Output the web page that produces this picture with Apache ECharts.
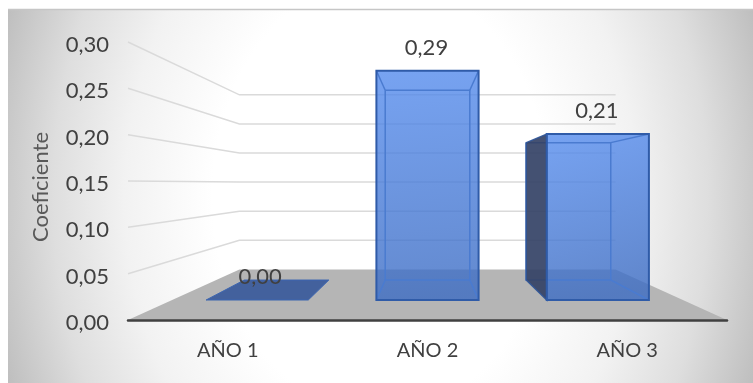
<!DOCTYPE html>
<html>
<head>
<meta charset="utf-8">
<style>html,body{margin:0;padding:0;background:#fff}#chart{width:753px;height:383px}</style>
<script src="https://cdn.jsdelivr.net/npm/echarts@6/dist/echarts.min.js"></script>
</head>
<body>
<div id="chart"></div>
<script>
const categories = ['AÑO 1', 'AÑO 2', 'AÑO 3'];
const coefficients = [0.00, 0.29, 0.21];
const axisTicks = [0, 0.05, 0.10, 0.15, 0.20, 0.25, 0.30];
const axisName = 'Coeficiente';

// Depth ratios of the 3D box: 1 is the front plane the axes live on.
const DEPTH_BACK = 0.628, DEPTH_BAR_FRONT = 0.853, DEPTH_BAR_BACK = 0.706;
const VANISH_Y = 184;
const BAR_HALF = 0.3;
const FONT = 'Lato, sans-serif';

const W = 753, H = 383;
const GRID = { left: 128, right: 26, top: 42, bottom: 63 };
const vanishX = GRID.left + (W - GRID.left - GRID.right) / 2;

const comma = v => v.toFixed(2).replace('.', ',');
const project = (p, s) => [vanishX + (p[0] - vanishX) * s, VANISH_Y + (p[1] - VANISH_Y) * s];
const poly = (points, style) => ({ type: 'polygon', shape: { points }, style });
const line = (points, stroke, lineWidth) => ({
  type: 'polyline', shape: { points }, style: { stroke, lineWidth, fill: 'none' }
});

// Gridlines: run back along the left wall, then across the rear wall.
function renderGridline(params, api) {
  const v = api.value(1);
  const left = api.coord([0, v]);
  left[0] = GRID.left;
  const right = [W - GRID.right, left[1]];
  return line([left, project(left, DEPTH_BACK), project(right, DEPTH_BACK)], '#dadada', 1.5);
}

function renderFloor(params, api) {
  const o = api.coord([0, 0]);
  const a = [GRID.left, o[1]], b = [W - GRID.right, o[1]];
  return poly([a, b, project(b, DEPTH_BACK), project(a, DEPTH_BACK)], { fill: '#b5b5b5' });
}

function renderBar(params, api) {
  const value = api.value(1);
  const base = api.coord([api.value(0), 0]);
  const top = api.coord([api.value(0), value]);
  const half = api.size([1, 0])[0] * BAR_HALF;
  const corner = (side, p, s) => project([p[0] + side * half, p[1]], s);

  const fbl = corner(-1, base, DEPTH_BAR_FRONT), fbr = corner(1, base, DEPTH_BAR_FRONT);
  const ftl = corner(-1, top, DEPTH_BAR_FRONT), ftr = corner(1, top, DEPTH_BAR_FRONT);
  const bbl = corner(-1, base, DEPTH_BAR_BACK), bbr = corner(1, base, DEPTH_BAR_BACK);
  const btl = corner(-1, top, DEPTH_BAR_BACK), btr = corner(1, top, DEPTH_BAR_BACK);

  const children = [];
  if (value === 0) {
    children.push(poly([fbl, fbr, bbr, bbl], {
      fill: 'rgba(30,70,150,0.75)', stroke: '#3d66b0', lineWidth: 1
    }));
  } else {
    children.push(poly([ftl, ftr, fbr, fbl], {
      fill: {
        type: 'linear', x: 0, y: 0, x2: 0.25, y2: 1,
        colorStops: [
          { offset: 0, color: 'rgba(85,140,238,0.8)' },
          { offset: 1, color: 'rgba(60,108,195,0.8)' }
        ]
      }
    }));
    // Back edges and receding edges show through the translucent front.
    const inner = '#4a7bd0';
    children.push(line([btl, btr, bbr, bbl, btl], inner, 1.5));
    const leftOutside = bbl[0] < fbl[0];
    if (!leftOutside) {
      children.push(line([ftl, btl], inner, 1.5), line([fbl, bbl], inner, 1.5));
    }
    children.push(line([ftr, btr], inner, 1.5), line([fbr, bbr], inner, 1.5));
    // A left side seen from outside reads as a dark face beside the front.
    if (leftOutside) {
      children.push(poly([bbl, fbl, ftl, btl], {
        fill: 'rgb(52,66,102)', opacity: 0.92, stroke: '#2f5597', lineWidth: 1.5
      }));
    }
    children.push(poly([ftl, ftr, fbr, fbl], { fill: 'none', stroke: '#2f5ba8', lineWidth: 2 }));
  }
  const cx = (ftl[0] + ftr[0]) / 2 + (value === 0 ? 3 : -1);
  children.push({
    type: 'text',
    style: {
      text: comma(value), x: cx, y: ftl[1] - 23,
      align: 'center', verticalAlign: 'middle',
      font: '22px ' + FONT, fill: '#404040'
    }
  });
  return { type: 'group', children };
}

const chart = echarts.init(document.getElementById('chart'), null, { renderer: 'canvas' });
chart.setOption({
  animation: false,
  backgroundColor: '#ffffff',
  graphic: [
    {
      // Stretched vertically so the radial fill falls off as an ellipse.
      type: 'rect', x: 8, y: 9, scaleY: 1.3, z: -10,
      shape: { x: 0, y: 0, width: 745, height: 374 / 1.3 },
      style: {
        fill: {
          type: 'radial', x: 0.5, y: 0.5, r: 1.39,
          colorStops: [
            { offset: 0, color: '#ffffff' },
            { offset: 0.42, color: '#ffffff' },
            { offset: 0.64, color: '#f2f2f2' },
            { offset: 0.82, color: '#dedede' },
            { offset: 1, color: '#bebebe' }
          ]
        }
      }
    },
    {
      type: 'line', z: -9,
      shape: { x1: 8, y1: 9.5, x2: 753, y2: 9.5 },
      style: { stroke: '#c6c6c6', lineWidth: 1.5 }
    }
  ],
  grid: GRID,
  xAxis: {
    type: 'category',
    data: categories,
    z: 5,
    axisTick: { show: false },
    axisLine: { lineStyle: { color: '#404040', width: 2.5, cap: 'round' } },
    axisLabel: { color: '#404040', fontFamily: FONT, fontSize: 20, margin: 21 }
  },
  yAxis: {
    type: 'value',
    min: axisTicks[0],
    max: axisTicks[axisTicks.length - 1],
    interval: 0.05,
    name: axisName,
    nameLocation: 'middle',
    nameGap: 76,
    nameRotate: 90,
    nameTextStyle: { color: '#595959', fontFamily: FONT, fontSize: 22, padding: [0, 12, 0, 0] },
    axisLine: { show: false },
    axisTick: { show: false },
    splitLine: { show: false },
    axisLabel: {
      color: '#404040', fontFamily: FONT, fontSize: 22, margin: 19,
      verticalAlign: 'top', lineHeight: 6, formatter: comma
    }
  },
  series: [
    { type: 'custom', z: 1, renderItem: renderGridline, silent: true,
      data: axisTicks.slice(1).map(v => [0, v]) },
    { type: 'custom', z: 2, renderItem: renderFloor, silent: true, data: [[0, 0]] },
    { type: 'custom', z: 3, renderItem: renderBar, data: coefficients.map((v, i) => [i, v]) }
  ]
});
</script>
</body>
</html>
